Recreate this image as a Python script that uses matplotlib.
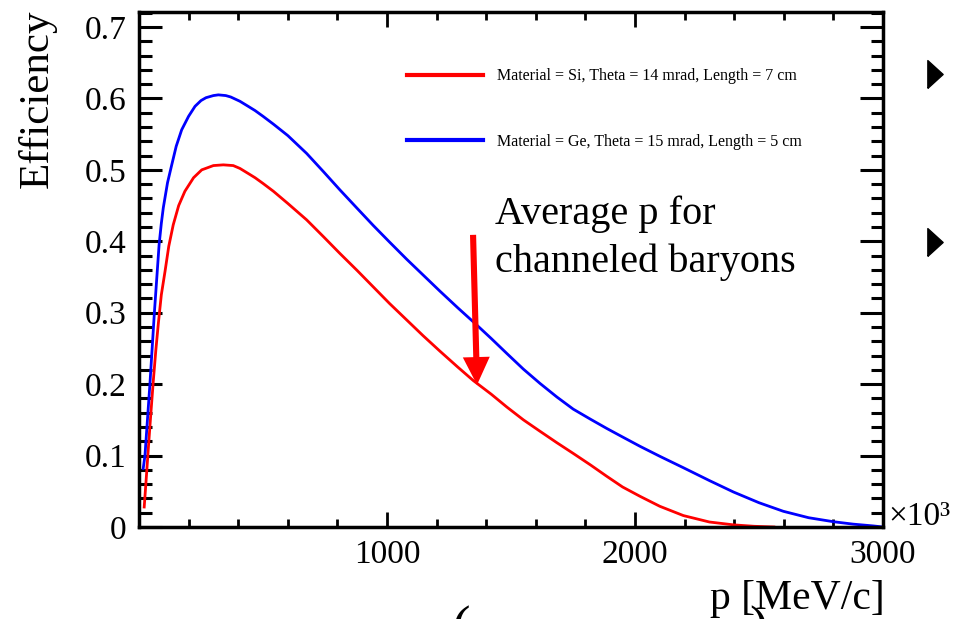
"""
Channeling efficiency versus baryon momentum for two crystal setups
(Si and Ge), drawn in a ROOT-like style and saved as out.png.
"""

import matplotlib.pyplot as plt
from matplotlib.lines import Line2D
from matplotlib.ticker import FixedLocator, MultipleLocator

plt.rcParams['font.family'] = ['Liberation Serif', 'DejaVu Sans']

# Si crystal, 14 mrad, 7 cm
si_p = [21, 30, 38, 48, 58, 68, 78, 90, 105, 120, 138, 160, 185, 220, 253,
        300, 340, 380, 407, 440, 468, 500, 542, 600, 676, 745, 810, 880,
        945, 1010, 1079, 1145, 1214, 1285, 1348, 1420, 1483, 1550, 1617,
        1685, 1751, 1820, 1886, 1950, 2020, 2100, 2195, 2300, 2397, 2480,
        2560]
si_eff = [0.028, 0.072, 0.112, 0.160, 0.206, 0.248, 0.285, 0.325, 0.358,
          0.393, 0.423, 0.450, 0.470, 0.489, 0.500, 0.506, 0.507, 0.506,
          0.502, 0.495, 0.489, 0.481, 0.470, 0.453, 0.430, 0.406, 0.383,
          0.359, 0.336, 0.313, 0.290, 0.268, 0.246, 0.224, 0.205, 0.186,
          0.168, 0.150, 0.134, 0.118, 0.103, 0.087, 0.071, 0.056, 0.043,
          0.029, 0.016, 0.007, 0.003, 0.001, 0.0]

# Ge crystal, 15 mrad, 5 cm
ge_p = [17, 24, 34, 44, 53, 62, 72, 81, 90, 98, 115, 132, 150, 172, 200,
        226, 250, 270, 300, 320, 350, 370, 407, 440, 468, 500, 542, 600,
        676, 745, 810, 880, 945, 1010, 1079, 1145, 1214, 1285, 1355, 1420,
        1483, 1550, 1617, 1685, 1751, 1820, 1886, 1950, 2020, 2100, 2195,
        2300, 2397, 2500, 2598, 2700, 2800, 2880, 2961, 3000]
ge_eff = [0.082, 0.100, 0.150, 0.200, 0.250, 0.300, 0.350, 0.395, 0.425,
          0.447, 0.482, 0.507, 0.533, 0.556, 0.575, 0.589, 0.597, 0.601,
          0.604, 0.605, 0.604, 0.602, 0.596, 0.589, 0.583, 0.575, 0.564,
          0.548, 0.523, 0.497, 0.472, 0.446, 0.422, 0.399, 0.375, 0.353,
          0.330, 0.307, 0.285, 0.264, 0.243, 0.221, 0.201, 0.182, 0.165,
          0.151, 0.138, 0.126, 0.113, 0.099, 0.083, 0.065, 0.049, 0.034,
          0.022, 0.013, 0.0074, 0.004, 0.0015, 0.0]

series_labels = ['Material = Si, Theta = 14 mrad, Length = 7 cm',
                 'Material = Ge, Theta = 15 mrad, Length = 5 cm']

x_ticks = [1000, 2000, 3000]
y_ticks = [0, 0.1, 0.2, 0.3, 0.4, 0.5, 0.6, 0.7]
y_tick_labels = ['0', '0.1', '0.2', '0.3', '0.4', '0.5', '0.6', '0.7']

# arrow marking the average momentum of channeled baryons: (p, eff) tail and tip
arrow_tail = (1347, 0.409)
arrow_tip = (1363, 0.199)


def plot_efficiency(output_path='out.png'):
    """Draw both efficiency curves with legend, note and arrow."""
    fig = plt.figure(figsize=(9.57, 6.19), dpi=100)
    ax = fig.add_axes([139 / 957, 92 / 619, 744 / 957, 515 / 619])

    ax.plot(si_p, si_eff, color='red', lw=2, label=series_labels[0])
    ax.plot(ge_p, ge_eff, color='blue', lw=2, label=series_labels[1])

    ax.set_xlim(0, 3000)
    ax.set_ylim(0, 0.721)

    ax.xaxis.set_major_locator(FixedLocator(x_ticks))
    ax.xaxis.set_minor_locator(MultipleLocator(200))
    ax.yaxis.set_major_locator(FixedLocator(y_ticks))
    ax.yaxis.set_minor_locator(MultipleLocator(0.02))
    ax.set_yticklabels(y_tick_labels)

    ax.tick_params(which='both', direction='in', top=True, right=True,
                   labelsize=24)
    ax.tick_params(axis='y', which='major', length=16.5, width=2.2, pad=9)
    ax.tick_params(axis='y', which='minor', length=9, width=2.2)
    ax.tick_params(axis='x', which='major', length=11, width=2, pad=9)
    ax.tick_params(axis='x', which='minor', length=5.5, width=2)
    for spine in ax.spines.values():
        spine.set_linewidth(2.5)

    ax.set_ylabel('Efficiency', fontsize=31, loc='top')
    ax.yaxis.set_label_coords(-0.110, 1.004)
    ax.set_xlabel('p [MeV/c]', fontsize=30, loc='right')
    ax.xaxis.set_label_coords(1.002, -0.102)

    ax.text(1.0067, 0.004, '×10³', transform=ax.transAxes, fontsize=24,
            va='baseline', ha='left', clip_on=False)

    leg = ax.legend(loc='upper left', bbox_to_anchor=(0.360, 0.891),
                    frameon=False, fontsize=11.5, handlelength=4.75,
                    handletextpad=0.9, labelspacing=3.1, borderpad=0,
                    borderaxespad=0)
    for line in leg.get_lines():
        line.set_linewidth(3)

    ax.text(1435, 0.357, 'Average p for\nchanneled baryons', fontsize=29,
            va='baseline', ha='left', linespacing=1.38)
    ax.annotate('', xy=arrow_tip, xytext=arrow_tail,
                arrowprops=dict(arrowstyle='simple,head_length=1.0,'
                                'head_width=0.97,tail_width=0.22',
                                mutation_scale=20, color='red', lw=0,
                                shrinkA=0, shrinkB=0))

    # slide bullets to the right of the plot
    bullet = [(-0.55, -1), (0.55, 0), (-0.55, 1), (-0.55, -1)]
    fig.add_artist(Line2D([934.5 / 957, 934.5 / 957],
                          [1 - 74 / 619, 1 - 242 / 619],
                          transform=fig.transFigure, ls='none',
                          marker=bullet, ms=20, color='black'))

    # bracket tops peeking in from below the figure
    fig.text(451 / 957, -0.042, '(', fontsize=40, va='baseline')
    fig.text(749 / 957, -0.042, ')', fontsize=40, va='baseline')

    fig.savefig(output_path, dpi=100)


if __name__ == '__main__':
    plot_efficiency()
